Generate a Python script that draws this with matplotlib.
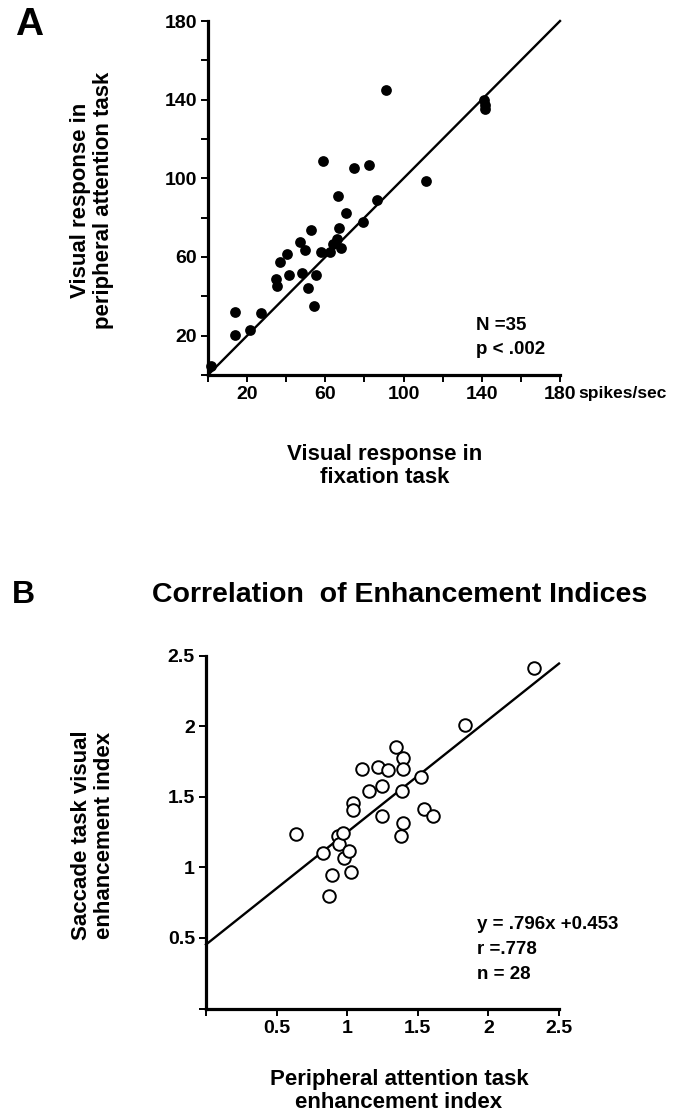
import matplotlib
matplotlib.use("Agg")
import matplotlib.pyplot as plt
import numpy as np

plt.rcParams['font.family'] = ['Liberation Sans', 'DejaVu Sans']
plt.rcParams['font.weight'] = 'bold'

# ---------------- Panel A data ----------------
fix_resp = [1.4, 13.8, 13.8, 21.5, 26.9, 34.8, 35.5, 36.8, 40.6, 41.4,
            47.1, 47.9, 49.8, 51.3, 52.5, 54.2, 55.4, 57.8, 59.0, 62.4,
            64.1, 65.8, 66.5, 67.2, 68.0, 70.4, 74.7, 79.5, 82.4, 86.3,
            91.0, 111.5, 141.3, 141.7, 141.5]
att_resp = [4.8, 31.9, 20.5, 22.7, 31.5, 48.6, 45.2, 57.6, 61.7, 50.8,
            67.4, 51.7, 63.6, 44.1, 73.7, 35.3, 50.8, 62.6, 108.8, 62.6,
            66.5, 69.1, 90.9, 74.7, 64.6, 82.2, 105.2, 77.6, 106.9, 89.2,
            145.1, 98.6, 139.8, 135.2, 137.5]
unity_line = [0, 180]
a_major = [20, 60, 100, 140, 180]
a_minor = [0, 40, 80, 120, 160]

# ---------------- Panel B data ----------------
periph_idx = [0.637, 0.831, 0.873, 0.892, 0.932, 0.944, 0.973, 0.980, 1.015, 1.029,
              1.039, 1.039, 1.107, 1.154, 1.216, 1.246, 1.246, 1.291, 1.343, 1.398,
              1.398, 1.391, 1.398, 1.383, 1.525, 1.546, 1.610, 1.834, 2.323]
saccade_idx = [1.234, 1.104, 0.797, 0.945, 1.222, 1.165, 1.241, 1.068, 1.118, 0.967,
               1.453, 1.406, 1.694, 1.540, 1.713, 1.576, 1.366, 1.689, 1.852, 1.776,
               1.694, 1.540, 1.316, 1.222, 1.637, 1.411, 1.363, 2.008, 2.414]
slope, intercept = 0.796, 0.453
fit_x = [0.0, 2.5]
b_ticks = [0.5, 1, 1.5, 2, 2.5]
b_ticklabels = ['0.5', '1', '1.5', '2', '2.5']

W, H = 696, 1116
fig = plt.figure(figsize=(W / 100, H / 100), dpi=100)

def frac(x0, y0, x1, y1):
    return [x0 / W, 1 - y1 / H, (x1 - x0) / W, (y1 - y0) / H]

TICKFS = 14
LABFS = 16
ANNFS = 13.5

def style_axes(ax):
    for s in ['top', 'right']:
        ax.spines[s].set_visible(False)
    for s in ['left', 'bottom']:
        ax.spines[s].set_linewidth(2.3)
    ax.tick_params(which='both', direction='out', length=5, width=1.4, labelsize=TICKFS, pad=3)
    for lab in ax.get_xticklabels() + ax.get_yticklabels():
        lab.set_fontweight('bold')

# ---------------- Panel A ----------------
axA = fig.add_axes(frac(208, 21, 560, 375))
axA.set_xlim(0, 180)
axA.set_ylim(0, 180)
axA.plot(unity_line, unity_line, color='black', lw=1.7, zorder=2, clip_on=False)
axA.scatter(fix_resp, att_resp, s=60, color='black', zorder=3, clip_on=False, linewidths=0)
axA.set_xticks(a_major)
axA.set_xticklabels([str(v) for v in a_major])
axA.set_xticks(a_minor, minor=True)
axA.set_yticks(a_major)
axA.set_yticklabels([str(v) for v in a_major])
axA.set_yticks(a_minor, minor=True)
style_axes(axA)
axA.annotate('spikes/sec', xy=(180, 0), xycoords='data', xytext=(13, -8),
             textcoords='offset points', ha='left', va='top', fontsize=12.5, fontweight='bold')
axA.text(0.762, 0.139, 'N =35', transform=axA.transAxes, fontsize=ANNFS, fontweight='bold',
         ha='left', va='center')
axA.text(0.762, 0.072, 'p < .002', transform=axA.transAxes, fontsize=ANNFS, fontweight='bold',
         ha='left', va='center')
fig.text(385 / W, 1 - 466 / H, 'Visual response in\nfixation task', ha='center', va='center',
         fontsize=LABFS, fontweight='bold', linespacing=1.15)
fig.text(92 / W, 1 - 200 / H, 'Visual response in\nperipheral attention task', ha='center',
         va='center', rotation=90, fontsize=LABFS, fontweight='bold', linespacing=1.15)
fig.text(29 / W, 1 - 25 / H, 'A', ha='center', va='center', fontsize=28, fontweight='bold')

# ---------------- Panel B ----------------
axB = fig.add_axes(frac(206, 655.5, 559, 1008.5))
axB.set_xlim(0, 2.5)
axB.set_ylim(0, 2.5)
fx = np.array(fit_x)
axB.plot(fx, slope * fx + intercept, color='black', lw=1.7, zorder=2, clip_on=False)
axB.scatter(periph_idx, saccade_idx, s=82, facecolors='white', edgecolors='black',
            linewidths=1.4, zorder=3, clip_on=False)
axB.set_xticks(b_ticks)
axB.set_xticklabels(b_ticklabels)
axB.set_xticks([0], minor=True)
axB.set_yticks(b_ticks)
axB.set_yticklabels(b_ticklabels)
axB.set_yticks([0], minor=True)
style_axes(axB)
axB.text(0.768, 0.237, 'y = .796x +0.453', transform=axB.transAxes, fontsize=ANNFS,
         fontweight='bold', ha='left', va='center')
axB.text(0.768, 0.166, 'r =.778', transform=axB.transAxes, fontsize=ANNFS,
         fontweight='bold', ha='left', va='center')
axB.text(0.768, 0.095, 'n = 28', transform=axB.transAxes, fontsize=ANNFS,
         fontweight='bold', ha='left', va='center')
fig.text(399 / W, 1 - 1091 / H, 'Peripheral attention task\nenhancement index', ha='center',
         va='center', fontsize=LABFS, fontweight='bold', linespacing=1.15)
fig.text(93 / W, 1 - 835 / H, 'Saccade task visual\nenhancement index', ha='center',
         va='center', rotation=90, fontsize=LABFS, fontweight='bold', linespacing=1.15)
fig.text(23 / W, 1 - 595 / H, 'B', ha='center', va='center', fontsize=23, fontweight='bold')
fig.text(400 / W, 1 - 595 / H, 'Correlation  of Enhancement Indices', ha='center', va='center',
         fontsize=20.5, fontweight='bold')

fig.savefig('out.png', dpi=100)
